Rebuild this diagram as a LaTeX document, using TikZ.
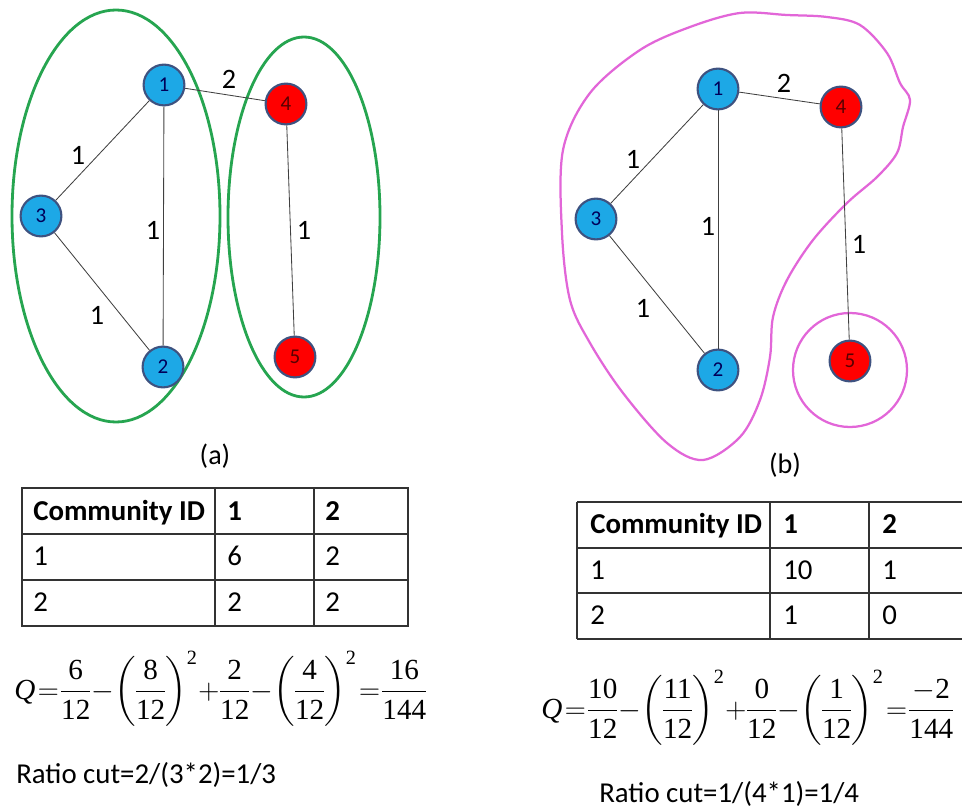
\documentclass[tikz,border=0pt]{standalone}
\usepackage{amsmath}
\usepackage{fontspec}
\setmainfont{Carlito}
\newfontfamily\timesfont{Liberation Serif}
\usetikzlibrary{positioning}
\definecolor{nodeblue}{RGB}{29,168,230}
\definecolor{nodered}{RGB}{255,0,0}
\definecolor{noderim}{RGB}{62,82,128}
\definecolor{commgreen}{RGB}{38,165,80}
\definecolor{commpink}{RGB}{226,102,216}
\newcommand{\tn}[1]{\text{\timesfont #1}}
\tikzset{
  % graph
  vertex/.style     = { circle, draw=noderim, line width=1.5pt, minimum size=1.02cm,
                        inner sep=0, font=\fontsize{15}{17}\selectfont },
  bluevertex/.style = { vertex, fill=nodeblue, text=blue!35!black },
  redvertex/.style  = { vertex, fill=nodered, text=red!35!black },
  link/.style       = { draw=black!75, line width=0.6pt },
  wlabel/.style     = { font=\fontsize{20}{24}\selectfont, inner sep=0 },
  community/.style  = { draw=commgreen, line width=2pt },
  blob/.style       = { draw=commpink, line width=1.6pt },
  panelcap/.style   = { font=\fontsize{20}{24}\selectfont, inner sep=0 },
  % tables and formulas
  tablerule/.style  = { draw=black!80, line width=0.8pt },
  tabcell/.style    = { font=\fontsize{20.5}{24}\selectfont, anchor=base west, inner sep=0 },
  formula/.style    = { font=\fontsize{20.74}{25}\selectfont, anchor=west, inner sep=0,
                        execute at begin node={\thickmuskip=1.5mu\medmuskip=0.5mu\nulldelimiterspace=0pt} }
}

\begin{document}
\begin{tikzpicture}[x=0.025cm, y=-0.025cm]

  \useasboundingbox (0,0) rectangle (962,808);
  \clip (0,0) rectangle (962,808);

  % (a) two communities
  \draw[community] (116,216) ellipse [x radius=104, y radius=206];
  \draw[community] (304,217) ellipse [x radius=76, y radius=180];

  \node[bluevertex] (a1) at (164,85)  {1};
  \node[bluevertex] (a2) at (163,367) {2};
  \node[bluevertex] (a3) at (41,216)  {3};
  \node[redvertex]  (a4) at (286,104) {4};
  \node[redvertex]  (a5) at (295,357) {5};

  \draw[link] (a1) -- (a4);
  \draw[link] (a3) -- (a1);
  \draw[link] (a1) -- (a2);
  \draw[link] (a3) -- (a2);
  \draw[link] (a4) -- (a5);

  \node[wlabel] (wa14) at (229,79)  {2};
  \node[wlabel] (wa31) at (78,155)  {1};
  \node[wlabel] (wa12) at (153,230) {1};
  \node[wlabel] (wa32) at (97,315)  {1};
  \node[wlabel] (wa45) at (304,230) {1};

  \node[panelcap] (capa) at (215,456) {(a)};

  % (b) split off node 5
  \draw[blob] plot[smooth cycle, tension=0.55] coordinates {
    (740,13) (787,15) (827,17) (860,25) (887,53) (900,83) (910,100) (903,127)
    (897,153) (877,177) (847,203) (813,240) (787,280) (773,317) (770,357)
    (760,400) (740,437) (703,460) (667,443) (623,393) (590,343) (570,300)
    (562,233) (563,150) (590,93) (640,50) (690,27)};
  \draw[blob] (850,370) circle [radius=57];

  \node[bluevertex] (b1) at (718,89)  {1};
  \node[bluevertex] (b2) at (718,370) {2};
  \node[bluevertex] (b3) at (596,219) {3};
  \node[redvertex]  (b4) at (841,107) {4};
  \node[redvertex]  (b5) at (850,361) {5};

  \draw[link] (b1) -- (b4);
  \draw[link] (b3) -- (b1);
  \draw[link] (b1) -- (b2);
  \draw[link] (b3) -- (b2);
  \draw[link] (b4) -- (b5);

  \node[wlabel] (wb14) at (784,83)  {2};
  \node[wlabel] (wb31) at (633,159) {1};
  \node[wlabel] (wb12) at (708,226) {1};
  \node[wlabel] (wb32) at (643,308) {1};
  \node[wlabel] (wb45) at (859,244) {1};

  \node[panelcap] (capb) at (785,465) {(b)};

  % table (a)
  \draw[tablerule] (22,488) rectangle (408,626);
  \foreach \y in {534,580} \draw[tablerule] (22,\y) -- (408,\y);
  \foreach \x in {215,314} \draw[tablerule] (\x,488) -- (\x,626);
  \foreach \r/\y/\ca/\cb/\cc in {0/520/{\bfseries Community ID}/{\bfseries 1}/{\bfseries 2},
                                 1/565/1/6/2, 2/611/2/2/2} {
    \node[tabcell] (ta\r1) at (33,\y)  {\ca};
    \node[tabcell] (ta\r2) at (227,\y) {\cb};
    \node[tabcell] (ta\r3) at (325,\y) {\cc};
  }

  % table (b)
  \draw[tablerule] (577,502) -- (975,502) (577,639) -- (975,639) (577,502) -- (577,639);
  \foreach \y in {548,593} \draw[tablerule] (577,\y) -- (975,\y);
  \foreach \x in {770,869} \draw[tablerule] (\x,502) -- (\x,639);
  \foreach \r/\y/\ca/\cb/\cc in {0/533/{\bfseries Community ID}/{\bfseries 1}/{\bfseries 2},
                                 1/579/1/10/1, 2/624/2/1/0} {
    \node[tabcell] (tb\r1) at (590,\y) {\ca};
    \node[tabcell] (tb\r2) at (783,\y) {\cb};
    \node[tabcell] (tb\r3) at (882,\y) {\cc};
  }

  % modularity
  \node[formula] (qa) at (14,689) {$\displaystyle \tn{\itshape Q}=\frac{\tn{6}}{\tn{12}}
    -\left(\frac{\tn{8}}{\tn{12}}\right)^{\tn{2}}+\frac{\tn{2}}{\tn{12}}
    -\left(\frac{\tn{4}}{\tn{12}}\right)^{\tn{2}}=\frac{\tn{16}}{\tn{144}}$};
  \node[formula] (qb) at (541,708) {$\displaystyle \tn{\itshape Q}=\frac{\tn{10}}{\tn{12}}
    -\left(\frac{\tn{11}}{\tn{12}}\right)^{\tn{2}}+\frac{\tn{0}}{\tn{12}}
    -\left(\frac{\tn{1}}{\tn{12}}\right)^{\tn{2}}=\frac{-\tn{2}}{\tn{144}}$};

  % ratio cut
  \node[tabcell] (rca) at (16,783)  {Ratio cut=2/(3*2)=1/3};
  \node[tabcell] (rcb) at (599,802) {Ratio cut=1/(4*1)=1/4};

\end{tikzpicture}
\end{document}
